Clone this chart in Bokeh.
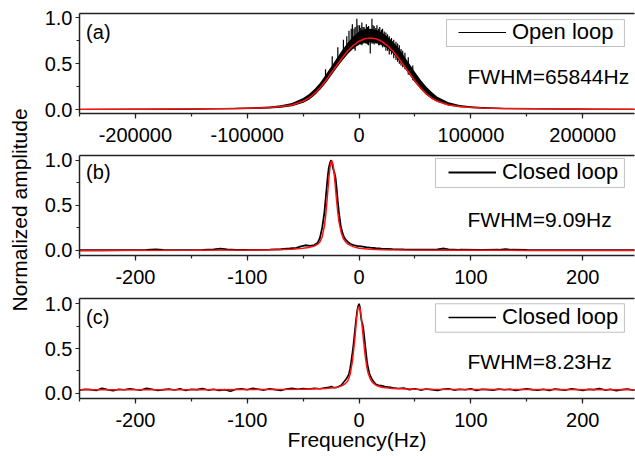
import math
from bokeh.plotting import figure
from bokeh.layouts import column, row
from bokeh.models import (Range1d, FixedTicker, SingleIntervalTicker, LinearAxis,
                          PrintfTickFormatter, Legend, LegendItem, BoxAnnotation, Label)
from bokeh.embed import file_html
from bokeh.resources import INLINE

FONT = "Liberation Sans"

# ---------------- data ----------------
# (a) open loop, Hz
band_a_x = [-250000, -200000, -150000, -110000, -90000, -80000, -70000, -60000, -50000, -45000,
            -40000, -35000, -30000, -25000, -20000, -15000, -10000, -5000, 0, 5000, 10000, 15000,
            20000, 25000, 30000, 35000, 40000, 45000, 50000, 55000, 60000, 65000, 70000, 80000,
            90000, 100000, 110000, 130000, 160000, 210000, 250000]
band_a_hi = [0.006, 0.007, 0.010, 0.018, 0.026, 0.034, 0.046, 0.072, 0.125, 0.165,
             0.220, 0.290, 0.375, 0.465, 0.560, 0.650, 0.730, 0.800, 0.850, 0.875, 0.880, 0.870,
             0.845, 0.800, 0.745, 0.675, 0.590, 0.500, 0.410, 0.325, 0.250, 0.190, 0.140, 0.080,
             0.050, 0.035, 0.026, 0.017, 0.011, 0.007, 0.006]
band_a_lo = [0.000, 0.001, 0.003, 0.008, 0.013, 0.018, 0.026, 0.042, 0.080, 0.112,
             0.160, 0.222, 0.295, 0.380, 0.465, 0.545, 0.615, 0.675, 0.715, 0.735, 0.740, 0.735,
             0.715, 0.680, 0.625, 0.555, 0.475, 0.390, 0.305, 0.232, 0.170, 0.124, 0.090, 0.050,
             0.032, 0.022, 0.016, 0.010, 0.006, 0.003, 0.002]
spike_a_x = [-30000, -24000, -19000, -14000, -11000, -9000, -7000, -6000, -4500, -3500, -2000,
             -1000, 500, 1500, 2500, 3500, 4500, 5500, 6500, 7500, 8500, 10000, 11500, 12500,
             13500, 15000, 16000, 17500, 18500, 20000, 21000, 22500, 24000, 25500, 27000, 29000,
             31000, 33000, 34500, 36000, 37500, 39000, 41000, 44000, 48000]
spike_a_hi = [0.44, 0.58, 0.68, 0.76, 0.80, 0.86, 0.88, 0.93, 0.88, 0.90, 0.99, 0.92, 0.92,
              0.89, 0.95, 0.90, 0.90, 0.88, 0.93, 0.90, 0.91, 0.86, 0.99, 0.92, 0.91, 0.89,
              0.92, 0.88, 0.90, 0.87, 0.88, 0.85, 0.84, 0.82, 0.80, 0.78, 0.76, 0.74, 0.72,
              0.70, 0.66, 0.64, 0.62, 0.57, 0.48]
spike_a_lo = [0.33, 0.42, 0.52, 0.58, 0.62, 0.64, 0.66, 0.68, 0.66, 0.64, 0.70, 0.70, 0.72,
              0.71, 0.70, 0.72, 0.73, 0.72, 0.72, 0.71, 0.70, 0.61, 0.72, 0.72, 0.71, 0.72,
              0.72, 0.70, 0.70, 0.70, 0.68, 0.68, 0.64, 0.64, 0.60, 0.60, 0.56, 0.54, 0.52,
              0.50, 0.48, 0.46, 0.44, 0.38, 0.32]
fit_a_x = [-250000, -190000, -140000, -110000, -90000, -80000, -70000, -60000, -50000, -45000,
           -40000, -35000, -30000, -25000, -20000, -15000, -10000, -5000, 0, 5000, 10000, 15000,
           20000, 25000, 30000, 35000, 40000, 45000, 50000, 55000, 60000, 65000, 70000, 80000,
           90000, 100000, 110000, 130000, 160000, 210000, 250000]
fit_a_y = [0.002, 0.004, 0.007, 0.011, 0.017, 0.023, 0.032, 0.050, 0.090, 0.125,
           0.172, 0.235, 0.310, 0.395, 0.480, 0.565, 0.640, 0.700, 0.745, 0.772, 0.780, 0.772,
           0.745, 0.700, 0.640, 0.565, 0.480, 0.395, 0.310, 0.235, 0.172, 0.125, 0.090, 0.050,
           0.032, 0.023, 0.017, 0.011, 0.007, 0.004, 0.003]

# (b) closed loop, Hz
data_b_x = [-250, -230, -210, -190, -182, -175, -160, -140, -130, -124, -118, -110, -95, -80, -70,
            -62, -56, -52, -48, -44, -40, -37, -35, -33, -31, -29.5, -28, -27, -26, -25, -24, -23,
            -22, -21, -20, -19, -18, -16.5, -15, -13.5, -12, -10, -8, -5, -2, 2, 6, 10, 15, 20, 30,
            40, 50, 60, 70, 76, 80, 90, 110, 125, 131, 136, 150, 180, 210, 250]
data_b_y = [0.003, 0.003, 0.004, 0.006, 0.012, 0.006, 0.004, 0.006, 0.012, 0.020, 0.012, 0.007,
            0.006, 0.010, 0.014, 0.022, 0.030, 0.045, 0.058, 0.050, 0.060, 0.085, 0.14, 0.25, 0.42,
            0.62, 0.82, 0.92, 0.97, 1.00, 0.96, 0.90, 0.86, 0.80, 0.68, 0.54, 0.42, 0.28, 0.20,
            0.15, 0.12, 0.095, 0.075, 0.06, 0.05, 0.045, 0.038, 0.032, 0.025, 0.02, 0.015, 0.012,
            0.010, 0.009, 0.012, 0.022, 0.012, 0.008, 0.007, 0.008, 0.016, 0.008, 0.006, 0.005,
            0.004, 0.004]
fit_b_x = [-250, -150, -100, -80, -60, -50, -45, -40, -37, -35, -33, -31, -30, -29, -28, -27, -26,
           -25, -24.5, -24, -23, -22, -21, -20, -19, -18, -16, -14, -12, -10, -5, 0, 10, 20, 40,
           80, 150, 250]
fit_b_y = [0.0, 0.002, 0.005, 0.008, 0.015, 0.025, 0.033, 0.05, 0.07, 0.095, 0.15, 0.27, 0.37,
           0.50, 0.65, 0.80, 0.92, 0.985, 0.99, 0.985, 0.93, 0.82, 0.68, 0.54, 0.42, 0.32, 0.20,
           0.13, 0.095, 0.07, 0.04, 0.025, 0.013, 0.008, 0.005, 0.003, 0.001, 0.0]

# (c) closed loop, Hz
data_c_x = [-250, -245, -240, -235, -230, -225, -220, -215, -210, -205, -200, -195, -190, -185,
            -180, -175, -170, -165, -160, -155, -150, -145, -140, -135, -130, -125, -120, -115,
            -110, -105, -100, -95, -90, -85, -80, -75, -70, -65, -60, -55, -50, -45, -40, -35, -30,
            -27, -25, -22, -19, -16, -14, -12, -10, -9, -8, -7, -6, -5, -4, -3, -2, -1, 0, 0.7,
            1.5, 2.3, 3, 3.8, 4.6, 5.4, 6.2, 7, 8, 9.3, 11, 13, 15, 17.5, 20, 23, 26, 28,
            30, 35, 40, 45, 50, 55, 60, 65, 70, 75, 80, 85, 90, 95, 100, 105, 110, 115, 120, 125,
            130, 135, 140, 145, 150, 155, 160, 165, 170, 175, 180, 185, 190, 195, 200, 205, 210,
            215, 220, 225, 230, 235, 240, 245, 250]
data_c_y = [0.035, 0.045, 0.040, 0.030, 0.055, 0.040, 0.028, 0.045, 0.038, 0.050, 0.042, 0.035,
            0.055, 0.045, 0.030, 0.040, 0.048, 0.036, 0.050, 0.030, 0.045, 0.040, 0.052, 0.035,
            0.045, 0.030, 0.040, 0.022, 0.045, 0.050, 0.038, 0.055, 0.045, 0.035, 0.050, 0.040,
            0.030, 0.048, 0.055, 0.045, 0.052, 0.048, 0.055, 0.050, 0.062,
            0.065, 0.075, 0.062, 0.070, 0.090, 0.12, 0.15, 0.19, 0.22, 0.28, 0.36, 0.45, 0.55,
            0.67, 0.79, 0.90, 0.97, 1.00, 0.97, 0.87, 0.80, 0.78, 0.73, 0.64, 0.55, 0.46, 0.37,
            0.29, 0.22, 0.17, 0.13, 0.10, 0.09, 0.085, 0.075, 0.070, 0.065,
            0.060, 0.052, 0.058, 0.040, 0.050, 0.035, 0.048, 0.040, 0.032, 0.045, 0.050, 0.035,
            0.045, 0.038, 0.050, 0.030, 0.045, 0.040, 0.035, 0.048, 0.038, 0.045, 0.030, 0.042,
            0.050, 0.040, 0.035, 0.045, 0.030, 0.048, 0.040, 0.035, 0.050, 0.042, 0.030, 0.045,
            0.040, 0.052, 0.035, 0.045, 0.028, 0.040, 0.048, 0.035, 0.042]
fit_c_x = [-250, -150, -80, -50, -30, -20, -15, -12, -10, -8, -6, -4, -3, -2, -1, 0, 1, 2, 3, 4,
           5, 6, 7, 8, 10, 12, 15, 20, 30, 50, 100, 250]
fit_c_y = [0.038, 0.040, 0.042, 0.045, 0.052, 0.065, 0.085, 0.11, 0.14, 0.21, 0.35, 0.58, 0.72,
           0.86, 0.95, 0.97, 0.94, 0.85, 0.72, 0.59, 0.47, 0.37, 0.29, 0.23, 0.16, 0.12, 0.09,
           0.067, 0.052, 0.045, 0.042, 0.040]

y_ticks = [0, 0.5, 1.0]
y_minor = [0.25, 0.75]
panel_tags = ["(a)", "(b)", "(c)"]
legend_texts = ["Open loop", "Closed loop", "Closed loop"]
fwhm_texts = ["FWHM=65844Hz", "FWHM=9.09Hz", "FWHM=8.23Hz"]
y_title = "Normalized amplitude"
x_title = "Frequency(Hz)"

AX = "#222222"
RED = "#ff1010"


def make_panel(xr, yr, height, top_b, bottom_b, interval):
    p = figure(width=599, height=height, x_range=Range1d(*xr), y_range=Range1d(*yr),
               output_backend="svg", toolbar_location=None, tools="",
               min_border_left=43, min_border_right=1, min_border_top=top_b,
               min_border_bottom=bottom_b)
    p.outline_line_color = None
    p.xgrid.visible = False
    p.ygrid.visible = False
    xa = p.below[0]
    ya = p.left[0]
    xa.ticker = SingleIntervalTicker(interval=interval, num_minor_ticks=2)
    xa.formatter = PrintfTickFormatter(format="%d")
    ya.ticker = FixedTicker(ticks=y_ticks, minor_ticks=y_minor)
    ya.formatter = PrintfTickFormatter(format="%.1f")
    for ax in (xa, ya):
        ax.axis_line_color = AX
        ax.axis_line_width = 1.5
        ax.major_tick_line_color = AX
        ax.minor_tick_line_color = AX
        ax.major_tick_line_width = 1.2
        ax.minor_tick_line_width = 1.2
        ax.major_tick_in = 0
        ax.minor_tick_in = 0
        ax.major_label_text_font = FONT
        ax.major_label_text_font_size = "20px"
        ax.major_label_text_color = "black"
        ax.axis_label_text_font = FONT
        ax.axis_label_text_font_size = "21px"
        ax.axis_label_text_font_style = "normal"
        ax.axis_label_text_color = "black"
    xa.major_tick_out = 5
    xa.minor_tick_out = 3
    xa.major_label_standoff = 9
    ya.major_tick_out = 4
    ya.minor_tick_out = 3
    ya.major_label_standoff = 3
    top = LinearAxis(ticker=FixedTicker(ticks=[]), major_tick_out=0, major_tick_in=0,
                     minor_tick_out=0, minor_tick_in=0, major_label_standoff=0,
                     major_label_text_font_size="0px", axis_line_color=AX, axis_line_width=1.5)
    p.add_layout(top, "above")
    return p


def decorate(p, idx, tag_xy, fwhm_xy, box, leg_loc, line_r):
    p.add_layout(BoxAnnotation(left=box[0], right=box[1], bottom=box[2], top=box[3],
                               fill_color="white", fill_alpha=1.0,
                               line_color="#333333", line_width=1))
    leg = Legend(items=[LegendItem(label=legend_texts[idx], renderers=[line_r])],
                 location=leg_loc, border_line_color=None, background_fill_alpha=0,
                 padding=0, margin=0, glyph_width=48, glyph_height=20, label_standoff=6,
                 label_text_font=FONT, label_text_font_size="22px", label_text_color="black")
    p.add_layout(leg)
    p.add_layout(Label(x=tag_xy[0], y=tag_xy[1], text=panel_tags[idx], text_font=FONT,
                       text_font_size="20px", text_baseline="alphabetic", text_align="left",
                       text_color="black"))
    p.add_layout(Label(x=fwhm_xy[0], y=fwhm_xy[1], text=fwhm_texts[idx], text_font=FONT,
                       text_font_size="21px", text_baseline="alphabetic", text_align="left",
                       text_color="black"))


# ---- shared y title
py = figure(width=36, height=456, x_range=Range1d(0, 1), y_range=Range1d(0, 1),
            output_backend="svg", toolbar_location=None, tools="",
            x_axis_location=None, y_axis_location=None, min_border=0)
py.outline_line_color = None
py.grid.visible = False
py.add_layout(Label(x=0.54, y=0.5406, text=y_title, angle=math.pi / 2, text_font=FONT,
                    text_font_size="21px", text_align="center", text_baseline="alphabetic",
                    text_color="black"))

# ---- panel (a)
pa = make_panel((-250000, 246300), (-0.0436, 1.047), 150, 13, 37, 100000)
pa.varea(x=band_a_x, y1=band_a_lo, y2=band_a_hi, fill_color="black")
pa.segment(x0=spike_a_x, y0=spike_a_lo, x1=spike_a_x, y1=spike_a_hi, line_color="black",
           line_width=1.2)
la = pa.line(band_a_x, band_a_lo, line_color="black", line_width=1.2)
pa.line(fit_a_x, fit_a_y, line_color=RED, line_width=1.5)
decorate(pa, 0, (-244100, 0.850), (97000, 0.359), (78200, 237300, 0.687, 0.981), (379, 68), la)

# ---- panel (b)
pb = make_panel((-250, 246.3), (-0.0554, 1.052), 142, 5, 37, 100)
lb = pb.line(data_b_x, data_b_y, line_color="black", line_width=1.8)
pb.line(fit_b_x, fit_b_y, line_color=RED, line_width=1.5)
decorate(pb, 1, (-244.1, 0.868), (97, 0.340), (68.3, 237.3, 0.698, 1.019), (369, 70), lb)

# ---- panel (c)
pc = make_panel((-250, 246.3), (-0.059, 1.059), 164, 6, 58, 100)
lc = pc.line(data_c_x, data_c_y, line_color="black", line_width=1.6)
pc.line(fit_c_x, fit_c_y, line_color=RED, line_width=1.5)
pc.below[0].axis_label = x_title
pc.below[0].axis_label_standoff = -2
decorate(pc, 2, (-244.1, 0.852), (97, 0.358), (68.3, 237.3, 0.682, 1.0), (369, 68), lc)

layout = row(py, column(pa, pb, pc))
open("out.html", "w").write(file_html(layout, INLINE))
